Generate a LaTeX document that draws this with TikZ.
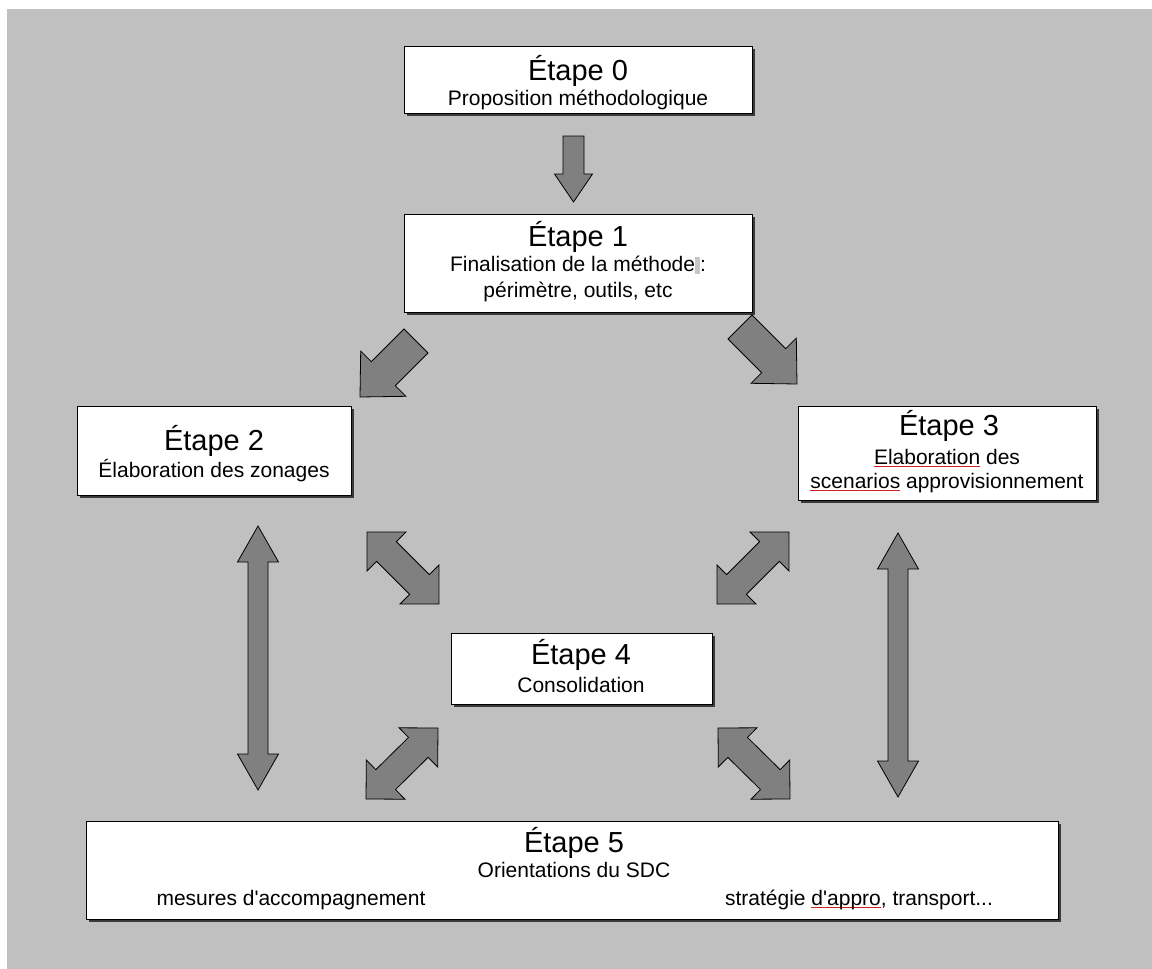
\documentclass[tikz,border=0pt]{standalone}
\usepackage{fontspec}
\setmainfont{Liberation Sans}[Ligatures=TeXOff]
\usetikzlibrary{calc,shadows}
\definecolor{bg}{HTML}{C0C0C0}
\definecolor{arrowgray}{HTML}{808080}
\definecolor{shadowgray}{HTML}{3A3A3A}
\definecolor{hl}{HTML}{C6C6C6}
\definecolor{spellred}{HTML}{D02020}
\newcommand{\spellerr}[1]{\setbox0\hbox{#1}\rlap{\textcolor{spellred}{\rule[-2.5pt]{\wd0}{0.8pt}}}\box0\relax}
\newcommand{\blockarrow}[5]{%
  \path ($(#2)!#5!(#1)$) coordinate (bacA);
  \draw[blockarr] ($(#1)!#3!90:(#2)$) -- ($(bacA)!#3!90:(#2)$) -- ($(bacA)!#4!90:(#2)$) -- (#2)
    -- ($(bacA)!#4!-90:(#2)$) -- ($(bacA)!#3!-90:(#2)$) -- ($(#1)!#3!-90:(#2)$) -- cycle;}
\newcommand{\dblarrow}[5]{%
  \path ($(#1)!#5!(#2)$) coordinate (dbA) ($(#2)!#5!(#1)$) coordinate (dbB);
  \draw[blockarr] (#1) -- ($(dbA)!#4!90:(#2)$) -- ($(dbA)!#3!90:(#2)$) -- ($(dbB)!#3!90:(#2)$)
    -- ($(dbB)!#4!90:(#2)$) -- (#2) -- ($(dbB)!#4!-90:(#2)$) -- ($(dbB)!#3!-90:(#2)$)
    -- ($(dbA)!#3!-90:(#2)$) -- ($(dbA)!#4!-90:(#2)$) -- cycle;}
\begin{document}
\begin{tikzpicture}[x=1pt,y=-1pt,
  box/.style={draw=black, line width=1pt, fill=white, inner sep=0pt,
    general shadow={fill=shadowgray, shadow xshift=2.5pt, shadow yshift=-2.5pt}},
  ttl/.style={anchor=base, inner sep=0pt, font=\fontsize{29}{29}\selectfont},
  sub/.style={anchor=base, inner sep=0pt, font=\fontsize{21}{21}\selectfont},
  blockarr/.style={fill=arrowgray, draw=black, line width=0.8pt, line join=miter}]
\useasboundingbox (0,0) rectangle (1152,969);
\fill[white] (0,0) rectangle (1152,969);
\fill[bg] (7,9) rectangle (1152,969);

% boxes
\node[box, minimum width=348pt, minimum height=67pt] (e0) at (578,79.5) {};
\node[box, minimum width=348pt, minimum height=98pt] (e1) at (578,263) {};
\node[box, minimum width=274pt, minimum height=89pt] (e2) at (214,450.5) {};
\node[box, minimum width=298pt, minimum height=94pt] (e3) at (947,453) {};
\node[box, minimum width=261pt, minimum height=71pt] (e4) at (581.5,668.5) {};
\node[box, minimum width=972pt, minimum height=98pt] (e5) at (572,870) {};

% texts
\node[ttl] (t0) at (578,80) {Étape 0};
\node[sub] (s0) at (578,105) {Proposition méthodologique};
\node[ttl] (t1) at (578,246) {Étape 1};
\node[sub] (s1a) at (578,271) {Finalisation de la méthode\textcolor{hl}{\rule[-3pt]{5pt}{17pt}}:};
\node[sub] (s1b) at (578,297) {périmètre, outils, etc};
\node[ttl] (t2) at (214,450) {Étape 2};
\node[sub] (s2) at (214,477) {Élaboration des zonages};
\node[ttl] (t3) at (949,435) {Étape 3};
\node[sub] (s3a) at (947,464) {\spellerr{Elaboration} des};
\node[sub] (s3b) at (947,488) {\spellerr{scenarios} approvisionnement};
\node[ttl] (t4) at (581,664) {Étape 4};
\node[sub] (s4) at (581,692) {Consolidation};
\node[ttl] (t5) at (574,852) {Étape 5};
\node[sub] (s5) at (574,877) {Orientations du SDC};
\node[sub] (s5l) at (291,905) {mesures d'accompagnement};
\node[sub] (s5r) at (859,905) {stratégie \spellerr{d'appro}, transport...};

% arrow end points
\coordinate (a01t) at (573.5,136);  \coordinate (a01h) at (573.5,202);
\coordinate (a12t) at (416,341);    \coordinate (a12h) at (360,397);
\coordinate (a13t) at (740,327);    \coordinate (a13h) at (797,384);
\coordinate (v25a) at (258,526);    \coordinate (v25b) at (258,790);
\coordinate (v35a) at (898,533);    \coordinate (v35b) at (898,797);
\coordinate (d24a) at (367,532);    \coordinate (d24b) at (439,604);
\coordinate (d34a) at (789,532);    \coordinate (d34b) at (717,604);
\coordinate (d45la) at (438,728);   \coordinate (d45lb) at (366,799);
\coordinate (d45ra) at (718,728);   \coordinate (d45rb) at (790,799);

% arrows
\blockarrow{a01t}{a01h}{10.5pt}{19pt}{28pt}
\blockarrow{a12t}{a12h}{17pt}{32pt}{33pt}
\blockarrow{a13t}{a13h}{17pt}{32pt}{33pt}
\dblarrow{v25a}{v25b}{10pt}{20.5pt}{36pt}
\dblarrow{v35a}{v35b}{10pt}{20.5pt}{36pt}
\dblarrow{d24a}{d24b}{14pt}{27.5pt}{27.6pt}
\dblarrow{d34a}{d34b}{14pt}{27.5pt}{27.6pt}
\dblarrow{d45la}{d45lb}{14pt}{27.5pt}{27.6pt}
\dblarrow{d45ra}{d45rb}{14pt}{27.5pt}{27.6pt}
\end{tikzpicture}
\end{document}
